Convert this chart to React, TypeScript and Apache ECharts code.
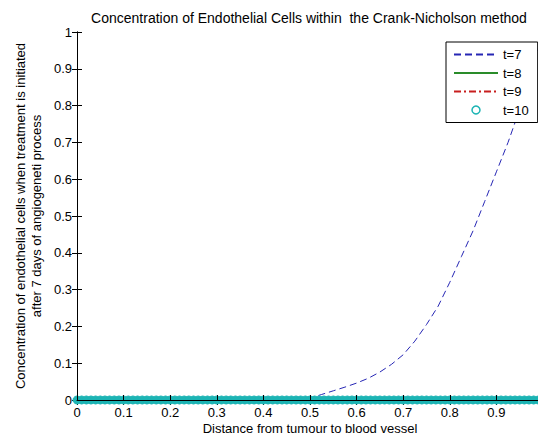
import React, { useEffect, useRef } from "react";
import * as echarts from "echarts";

// Distance from tumour to blood vessel (x) and the t=7 concentration profile
const t7X = [0, 0.475, 0.5, 0.525, 0.55, 0.575, 0.6, 0.625, 0.65, 0.675, 0.7, 0.725, 0.75, 0.775, 0.8, 0.825, 0.85, 0.875, 0.9, 0.925, 0.95, 0.975, 1.0];
const t7Y = [0, 0, 0.005, 0.015, 0.025, 0.035, 0.046, 0.059, 0.076, 0.097, 0.123, 0.16, 0.205, 0.255, 0.32, 0.39, 0.46, 0.54, 0.62, 0.7, 0.79, 0.89, 1.0];

// Mesh used for the later time levels, which stay at zero everywhere
const meshX = [
  0, 0.01, 0.02, 0.03, 0.04, 0.05, 0.06, 0.07, 0.08, 0.09,
  0.1, 0.11, 0.12, 0.13, 0.14, 0.15, 0.16, 0.17, 0.18, 0.19,
  0.2, 0.21, 0.22, 0.23, 0.24, 0.25, 0.26, 0.27, 0.28, 0.29,
  0.3, 0.31, 0.32, 0.33, 0.34, 0.35, 0.36, 0.37, 0.38, 0.39,
  0.4, 0.41, 0.42, 0.43, 0.44, 0.45, 0.46, 0.47, 0.48, 0.49,
  0.5, 0.51, 0.52, 0.53, 0.54, 0.55, 0.56, 0.57, 0.58, 0.59,
  0.6, 0.61, 0.62, 0.63, 0.64, 0.65, 0.66, 0.67, 0.68, 0.69,
  0.7, 0.71, 0.72, 0.73, 0.74, 0.75, 0.76, 0.77, 0.78, 0.79,
  0.8, 0.81, 0.82, 0.83, 0.84, 0.85, 0.86, 0.87, 0.88, 0.89,
  0.9, 0.91, 0.92, 0.93, 0.94, 0.95, 0.96, 0.97, 0.98, 0.99, 1.0,
];
const t8Level = 0;
const t9Level = 0;
const t10Level = 0;

const seriesNames = ["t=7", "t=8", "t=9", "t=10"];

const FONT = "'Liberation Sans', Arial, Helvetica, sans-serif";
const BLUE = "#2626b4";
const GREEN = "#2a8c2a";
const RED = "#c81e1e";
const CYAN = "#1cb4b4";

export default function App() {
  const ref = useRef<HTMLDivElement>(null);

  useEffect(() => {
    if (!ref.current) return;
    const chart = echarts.init(ref.current, undefined, { renderer: "svg" });

    const gridLeft = 77;
    const gridTop = 32;
    const gridW = 466;
    const gridH = 368;

    const axisLine = { show: true, lineStyle: { color: "#000", width: 1 } };
    const tick = { show: true, inside: true, length: 5, lineStyle: { color: "#000" } };
    const label = { color: "#000", fontSize: 13, fontFamily: FONT };
    const fmt = (v: number) => String(+v.toFixed(1));

    chart.setOption({
      animation: false,
      backgroundColor: "#fff",
      grid: {
        left: gridLeft,
        top: gridTop,
        width: gridW,
        height: gridH,
        containLabel: false,
        outerBoundsMode: "none",
      },
      graphic: [
        {
          type: "text",
          x: gridLeft + gridW / 2 - 1,
          y: 11,
          style: {
            text: "Concentration of Endothelial Cells within  the Crank-Nicholson method",
            fill: "#000",
            font: `14px ${FONT}`,
            textAlign: "center",
            textVerticalAlign: "top",
          },
        },
      ],
      legend: {
        orient: "vertical",
        left: 446,
        top: 42,
        padding: [6, 9, 6, 7],
        itemWidth: 44,
        itemHeight: 8,
        itemGap: 5.5,
        borderColor: "#000",
        borderWidth: 1,
        borderRadius: 0,
        backgroundColor: "#fff",
        textStyle: { color: "#000", fontSize: 13, fontFamily: FONT },
        data: [
          { name: seriesNames[0], itemStyle: { opacity: 0 } },
          { name: seriesNames[1], itemStyle: { opacity: 0 } },
          { name: seriesNames[2], itemStyle: { opacity: 0 } },
          { name: seriesNames[3], itemStyle: { color: "#fff", borderColor: CYAN, borderWidth: 1.5 } },
        ],
      },
      xAxis: [
        {
          type: "value",
          min: 0,
          max: 1,
          interval: 0.1,
          position: "bottom",
          z: 10,
          axisLine,
          axisTick: tick,
          splitLine: { show: false },
          axisLabel: { ...label, margin: 6, formatter: fmt, showMaxLabel: false },
          name: "Distance from tumour to blood vessel",
          nameLocation: "middle",
          nameGap: 22,
          nameMoveOverlap: false,
          nameTextStyle: { color: "#000", fontSize: 13, fontFamily: FONT },
        },
        {
          type: "value",
          min: 0,
          max: 1,
          interval: 0.1,
          position: "top",
          axisLine,
          axisTick: tick,
          axisLabel: { show: false },
          splitLine: { show: false },
        },
      ],
      yAxis: [
        {
          type: "value",
          min: 0,
          max: 1,
          interval: 0.1,
          position: "left",
          z: 10,
          axisLine,
          axisTick: tick,
          splitLine: { show: false },
          axisLabel: { ...label, margin: 5, formatter: fmt },
          name: "Concentration of endothelial cells when treatment is initiated\nafter 7 days of angiogeneti process",
          nameLocation: "middle",
          nameRotate: 90,
          nameGap: 33,
          nameMoveOverlap: false,
          nameTextStyle: { color: "#000", fontSize: 13, fontFamily: FONT, lineHeight: 16 },
        },
        {
          type: "value",
          min: 0,
          max: 1,
          interval: 0.1,
          position: "right",
          axisLine,
          axisTick: tick,
          axisLabel: { show: false },
          splitLine: { show: false },
        },
      ],
      series: [
        {
          name: seriesNames[0],
          type: "line",
          data: t7X.map((x, i) => [x, t7Y[i]]),
          symbol: "none",
          lineStyle: { color: BLUE, width: 1, type: [7, 4] },
          itemStyle: { color: BLUE },
          z: 3,
        },
        {
          name: seriesNames[1],
          type: "line",
          data: meshX.map((x) => [x, t8Level]),
          symbol: "none",
          lineStyle: { color: GREEN, width: 1 },
          itemStyle: { color: GREEN },
          z: 3,
        },
        {
          name: seriesNames[2],
          type: "line",
          data: meshX.map((x) => [x, t9Level]),
          symbol: "none",
          lineStyle: { color: RED, width: 1, type: [7, 3, 2, 3] },
          itemStyle: { color: RED },
          z: 3,
        },
        {
          // densely packed open circles merge into one band along the axis
          name: seriesNames[3],
          type: "scatter",
          data: meshX.map((x) => [x, t10Level]),
          symbol: "circle",
          symbolSize: 8,
          clip: false,
          itemStyle: { color: CYAN, borderColor: CYAN, borderWidth: 1, opacity: 1 },
          z: 4,
        },
      ],
    });

    return () => chart.dispose();
  }, []);

  return (
    <div
      ref={ref}
      style={{ position: "fixed", left: 0, top: 0, width: 538, height: 438, background: "#fff" }}
    />
  );
}
